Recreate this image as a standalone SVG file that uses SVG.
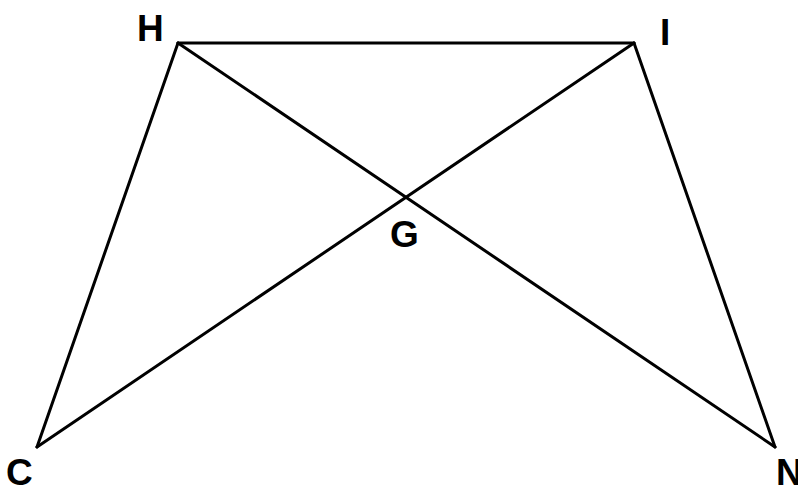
<svg xmlns="http://www.w3.org/2000/svg" width="798" height="491" viewBox="0 0 798 491">
<style>
.e{stroke:#000;stroke-width:3;fill:none;stroke-linecap:round;stroke-linejoin:round}
.l{font-family:"Liberation Sans",Arial,sans-serif;font-weight:bold;font-size:37px;fill:#000}
</style>
<rect width="798" height="491" fill="#fff"/>
<g id="connectors">
<line class="e" x1="178" y1="43" x2="634" y2="43"/>
<line class="e" x1="178" y1="43" x2="37" y2="447"/>
<line class="e" x1="634" y1="43" x2="775" y2="447"/>
<line class="e" x1="178" y1="43" x2="775" y2="447"/>
<line class="e" x1="634" y1="43" x2="37" y2="447"/>
</g>
<g id="H"><text class="l" x="137" y="41">H</text></g>
<g id="I"><text class="l" x="660" y="45">I</text></g>
<g id="G"><text class="l" x="390" y="247">G</text></g>
<g id="C"><text class="l" x="6" y="485">C</text></g>
<g id="N"><text class="l" x="776" y="485">N</text></g>
</svg>
